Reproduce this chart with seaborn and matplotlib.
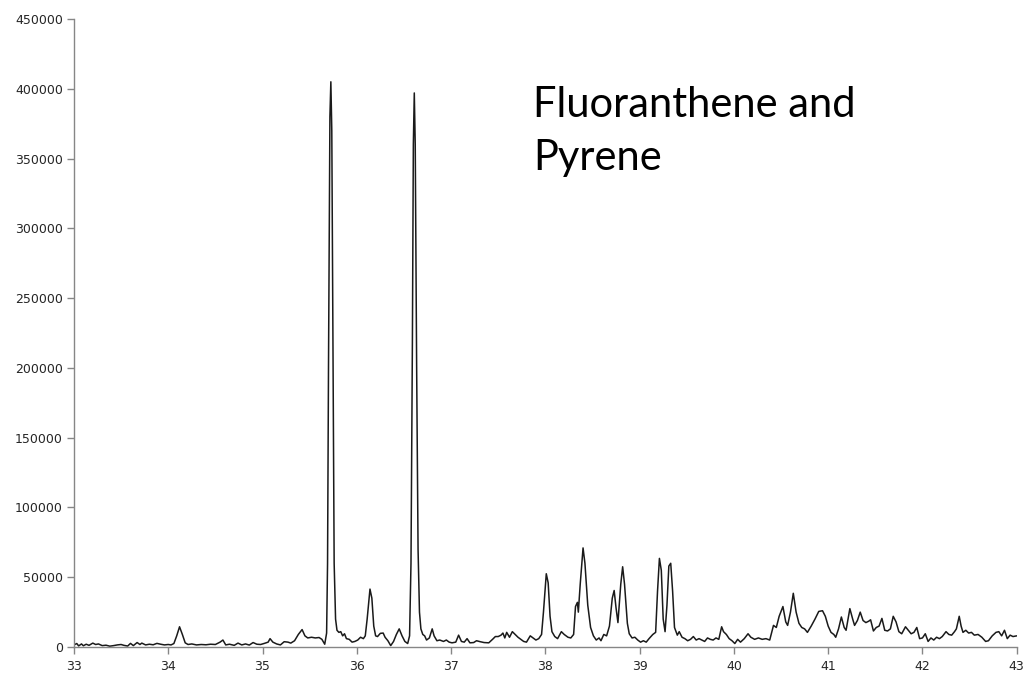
import pandas as pd
import seaborn as sns
import matplotlib.pyplot as plt

# retention time (min) and abundance
times = [
    33.00, 33.03, 33.05, 33.08, 33.10, 33.13, 33.16, 33.20, 33.23, 33.26,
    33.30, 33.34, 33.38, 33.42, 33.46, 33.50, 33.53, 33.57, 33.60, 33.63,
    33.67, 33.70, 33.72, 33.76, 33.80, 33.84, 33.88, 33.92, 33.96, 34.00,
    34.03, 34.06, 34.09, 34.12, 34.15, 34.18, 34.21, 34.25, 34.30, 34.35,
    34.40, 34.45, 34.50, 34.55, 34.58, 34.61, 34.65, 34.70, 34.74, 34.78,
    34.82, 34.86, 34.90, 34.94, 34.98, 35.02, 35.06, 35.08, 35.11, 35.15,
    35.19, 35.23, 35.27, 35.30, 35.34, 35.38, 35.42, 35.45, 35.48, 35.52,
    35.56, 35.60, 35.63, 35.66, 35.68, 35.69, 35.70, 35.715, 35.725, 35.735,
    35.75, 35.76, 35.775, 35.79, 35.81, 35.83, 35.85, 35.87, 35.89, 35.92,
    35.95, 35.98, 36.01, 36.04, 36.07, 36.09, 36.11, 36.14, 36.16, 36.18,
    36.20, 36.22, 36.25, 36.28, 36.30, 36.33, 36.36, 36.39, 36.42, 36.45,
    36.48, 36.51, 36.54, 36.56, 36.575, 36.59, 36.60, 36.61, 36.62, 36.635,
    36.65, 36.665, 36.68, 36.70, 36.72, 36.74, 36.77, 36.80, 36.82, 36.85,
    36.88, 36.92, 36.95, 36.98, 37.01, 37.05, 37.08, 37.11, 37.14, 37.17,
    37.20, 37.24, 37.27, 37.31, 37.35, 37.40, 37.44, 37.47, 37.50, 37.53,
    37.55, 37.57, 37.59, 37.62, 37.65, 37.68, 37.71, 37.74, 37.77, 37.80,
    37.84, 37.87, 37.90, 37.93, 37.96, 37.98, 38.01, 38.03, 38.05, 38.07,
    38.10, 38.13, 38.17, 38.20, 38.24, 38.27, 38.30, 38.32, 38.34, 38.35,
    38.37, 38.40, 38.42, 38.45, 38.48, 38.51, 38.54, 38.57, 38.59, 38.62,
    38.65, 38.68, 38.71, 38.73, 38.75, 38.77, 38.80, 38.82, 38.84, 38.87,
    38.89, 38.92, 38.95, 38.98, 39.01, 39.04, 39.07, 39.10, 39.14, 39.17,
    39.19, 39.21, 39.23, 39.25, 39.27, 39.29, 39.31, 39.33, 39.35, 39.37,
    39.40, 39.42, 39.45, 39.48, 39.51, 39.54, 39.57, 39.60, 39.63, 39.66,
    39.69, 39.72, 39.75, 39.78, 39.81, 39.84, 39.87, 39.89, 39.92, 39.95,
    39.98, 40.01, 40.04, 40.07, 40.11, 40.15, 40.18, 40.22, 40.26, 40.30,
    40.34, 40.38, 40.42, 40.45, 40.48, 40.52, 40.55, 40.57, 40.60, 40.63,
    40.66, 40.69, 40.72, 40.75, 40.78, 40.82, 40.86, 40.90, 40.94, 40.97,
    41.00, 41.03, 41.06, 41.08, 41.11, 41.14, 41.17, 41.19, 41.23, 41.26,
    41.28, 41.31, 41.34, 41.37, 41.40, 41.43, 41.45, 41.48, 41.51, 41.54,
    41.57, 41.60, 41.63, 41.66, 41.69, 41.72, 41.75, 41.78, 41.82, 41.85,
    41.88, 41.91, 41.94, 41.97, 42.00, 42.03, 42.06, 42.09, 42.12, 42.15,
    42.18, 42.21, 42.25, 42.28, 42.31, 42.34, 42.36, 42.39, 42.41, 42.43,
    42.46, 42.49, 42.52, 42.55, 42.59, 42.63, 42.67, 42.70, 42.74, 42.78,
    42.81, 42.84, 42.87, 42.90, 42.93, 42.96, 43.00,
]
abundance = [
    1500, 2500, 800, 2200, 900, 2000, 1200, 2800, 1800, 2200,
    1000, 1300, 600, 1000, 1500, 1800, 1200, 700, 2600, 1000,
    3200, 1800, 2800, 1500, 2000, 1600, 2600, 2000, 1500, 1800,
    1500, 2500, 8000, 14500, 9000, 3000, 1800, 2200, 1500, 1800,
    1600, 2000, 1800, 3500, 5000, 1500, 2000, 1200, 2800, 1500,
    2200, 1400, 3200, 2000, 1800, 2600, 3500, 6000, 3500, 2200,
    1500, 3800, 3500, 2800, 4500, 9000, 12500, 8000, 6500, 7000,
    6500, 6800, 5500, 2000, 10000, 60000, 200000, 380000, 405000, 370000,
    180000, 60000, 20000, 12000, 10500, 11000, 8000, 9500, 6000, 5500,
    3500, 4000, 5000, 7000, 6000, 8000, 20000, 41500, 35000, 15000,
    8000, 7500, 9800, 10000, 7000, 4500, 1000, 4000, 9000, 13000,
    8000, 4000, 2500, 8000, 60000, 220000, 360000, 397000, 360000, 200000,
    70000, 25000, 13000, 9000, 8000, 5000, 6500, 13000, 8000, 4500,
    5000, 4000, 5000, 3500, 3000, 3500, 8500, 4000, 3500, 6000,
    3000, 3200, 4500, 3800, 3200, 3000, 5500, 7500, 7500, 8500,
    10000, 6500, 10500, 7000, 11000, 9000, 7000, 5500, 4000, 3500,
    8000, 6500, 5000, 6000, 9000, 25000, 52500, 46000, 22000, 11000,
    7500, 6000, 11000, 9000, 7000, 6500, 9000, 29000, 32000, 25000,
    45000, 71000, 60000, 30000, 14000, 8000, 5000, 6500, 4500, 9000,
    8000, 15000, 35000, 40500, 28000, 17500, 45000, 57500, 45000, 17000,
    9500, 6500, 7000, 5000, 3500, 4500, 3500, 6000, 9000, 10500,
    40000, 63500, 55000, 20000, 11000, 30000, 58000, 60000, 40000, 14000,
    8500, 11000, 7000, 6000, 4500, 5500, 7500, 5000, 6000, 5000,
    4000, 6500, 5500, 5000, 6500, 5500, 14500, 11000, 9000, 6000,
    4500, 2500, 5500, 3500, 6000, 9500, 7000, 5500, 6500, 5500,
    6000, 5000, 15500, 14000, 22000, 29000, 18000, 15500, 25000, 38500,
    25000, 17000, 14000, 13000, 10500, 15000, 20000, 25500, 26000, 22000,
    15000, 10500, 9000, 7000, 13000, 21500, 14000, 12000, 27500, 20000,
    15500, 19000, 25000, 19000, 17500, 18500, 19500, 11500, 14000, 15000,
    20500, 12000, 11500, 13000, 22000, 18000, 11000, 9500, 14500, 12000,
    9500, 10500, 14000, 6000, 6500, 9500, 4000, 6500, 5000, 7000,
    6000, 7500, 11000, 9000, 8500, 11000, 13000, 22000, 15000, 10500,
    12000, 10000, 10500, 8500, 9000, 7000, 4000, 4500, 8000, 10500,
    11000, 8000, 12000, 6000, 8500, 7500, 8000,
]
x_ticks = [33, 34, 35, 36, 37, 38, 39, 40, 41, 42, 43]
y_ticks = [0, 50000, 100000, 150000, 200000, 250000, 300000, 350000, 400000, 450000]

df = pd.DataFrame({"time": times, "abundance": abundance})

sns.set_style("white")
plt.rcParams['font.family'] = ['DejaVu Sans']

fig = plt.figure(figsize=(10.27, 6.78), dpi=100)
ax = fig.add_axes([0.072, 0.0457, 0.918, 0.9263])

sns.lineplot(data=df, x="time", y="abundance", ax=ax, color="#1a1a1a",
             linewidth=1.1, sort=False)

ax.set_xlim(33, 43)
ax.set_ylim(0, 450000)
ax.set_xticks(x_ticks)
ax.set_yticks(y_ticks)
ax.set_xticklabels([str(t) for t in x_ticks])
ax.set_yticklabels([str(t) for t in y_ticks])
ax.set_xlabel("")
ax.set_ylabel("")

grey = "#868686"
for side in ["top", "right"]:
    ax.spines[side].set_visible(False)
for side in ["left", "bottom"]:
    ax.spines[side].set_color(grey)
    ax.spines[side].set_linewidth(1.0)
ax.tick_params(axis="both", which="major", direction="out", length=5,
               width=1.0, color=grey, labelsize=9, labelcolor="#262626",
               bottom=True, left=True)
ax.tick_params(axis="x", pad=4)
ax.tick_params(axis="y", pad=3)
ax.margins(0)

fig.text(0.519, 0.827, "Fluoranthene and", fontsize=30, family=["Lato", "DejaVu Sans"],
         color="black", va="baseline", ha="left")
fig.text(0.519, 0.749, "Pyrene", fontsize=30, family=["Lato", "DejaVu Sans"],
         color="black", va="baseline", ha="left")

fig.savefig("out.png", dpi=100)
